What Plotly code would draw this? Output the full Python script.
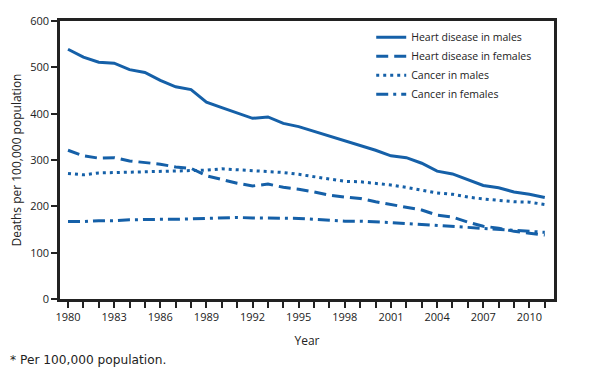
import plotly.graph_objects as go

years = list(range(1980, 2012))
heart_males = [539, 522, 511, 509, 495, 489, 472, 458, 452, 425, 413, 401, 390, 393, 379, 372,
               362, 351, 341, 332, 321, 309, 305, 293, 276, 270, 257, 245, 240, 231, 226, 219]
heart_females = [321, 309, 304, 305, 298, 295, 291, 285, 282, 266, 258, 250, 244, 248, 241, 237,
                 231, 224, 220, 217, 210, 204, 199, 192, 181, 177, 166, 157, 153, 146, 142, 138]
cancer_males = [271, 268, 272, 273, 274, 275, 275, 276, 277, 278, 281, 279, 277, 276, 273, 269,
                264, 258, 254, 253, 250, 246, 241, 235, 229, 226, 220, 216, 213, 210, 209, 204]
cancer_females = [167, 167, 169, 169, 171, 172, 172, 172, 173, 175, 176, 176, 175, 175, 175, 174,
                  172, 170, 168, 168, 167, 165, 163, 161, 159, 157, 155, 153, 150, 148, 146, 144]
x_tick_labels = [str(y) for y in range(1980, 2011, 3)]
y_ticks = [0, 100, 200, 300, 400, 500, 600]

color = "#1560a8"
series = [
    ("Heart disease in males", heart_males, "solid"),
    ("Heart disease in females", heart_females, "12px,6px"),
    ("Cancer in males", cancer_males, "3px,4px"),
    ("Cancer in females", cancer_females, "12px,5px,3px,5px"),
]

fig = go.Figure()
for name, vals, dash in series:
    fig.add_trace(go.Scatter(x=years, y=vals, mode="lines", name=name,
                             line=dict(color=color, width=3, dash=dash)))

fnt = "Open Sans, Liberation Sans, sans-serif"
fig.update_layout(
    width=587, height=369,
    margin=dict(l=52, r=41, t=13, b=78, autoexpand=False),
    paper_bgcolor="white", plot_bgcolor="white",
    font=dict(family=fnt, size=11, color="#222"),
    showlegend=True,
    legend=dict(x=0.630, y=0.994, xanchor="left", yanchor="top",
                bgcolor="rgba(0,0,0,0)", font=dict(size=10.5, color="#222"),
                itemwidth=30, tracegroupgap=0),
    xaxis=dict(range=[1979.48, 2011.6], tickmode="array",
               tickvals=list(range(1980, 2012)),
               ticktext=[str(y) if str(y) in x_tick_labels else "" for y in years],
               ticks="outside", ticklen=6, tickwidth=2, tickcolor="#222",
               showline=True, linewidth=2.5, linecolor="#222", mirror=True,
               showgrid=False, zeroline=False, automargin=False,
               title=dict(text="Year", font=dict(size=12), standoff=14)),
    yaxis=dict(range=[0, 600], tickvals=y_ticks,
               ticks="outside", ticklen=6, tickwidth=2, tickcolor="#222",
               showline=True, linewidth=2.5, linecolor="#222", mirror=True,
               showgrid=False, zeroline=False, automargin=False,
               title=dict(text="Deaths per 100,000 population", font=dict(size=12), standoff=10)),
)
fig.add_annotation(text="* Per 100,000 population.", xref="paper", yref="paper",
                   x=-0.105, y=-0.188, xanchor="left", yanchor="top", showarrow=False,
                   font=dict(family="DejaVu Sans, Verdana, sans-serif", size=12.2, color="#222"))
fig.write_html("out.html")
